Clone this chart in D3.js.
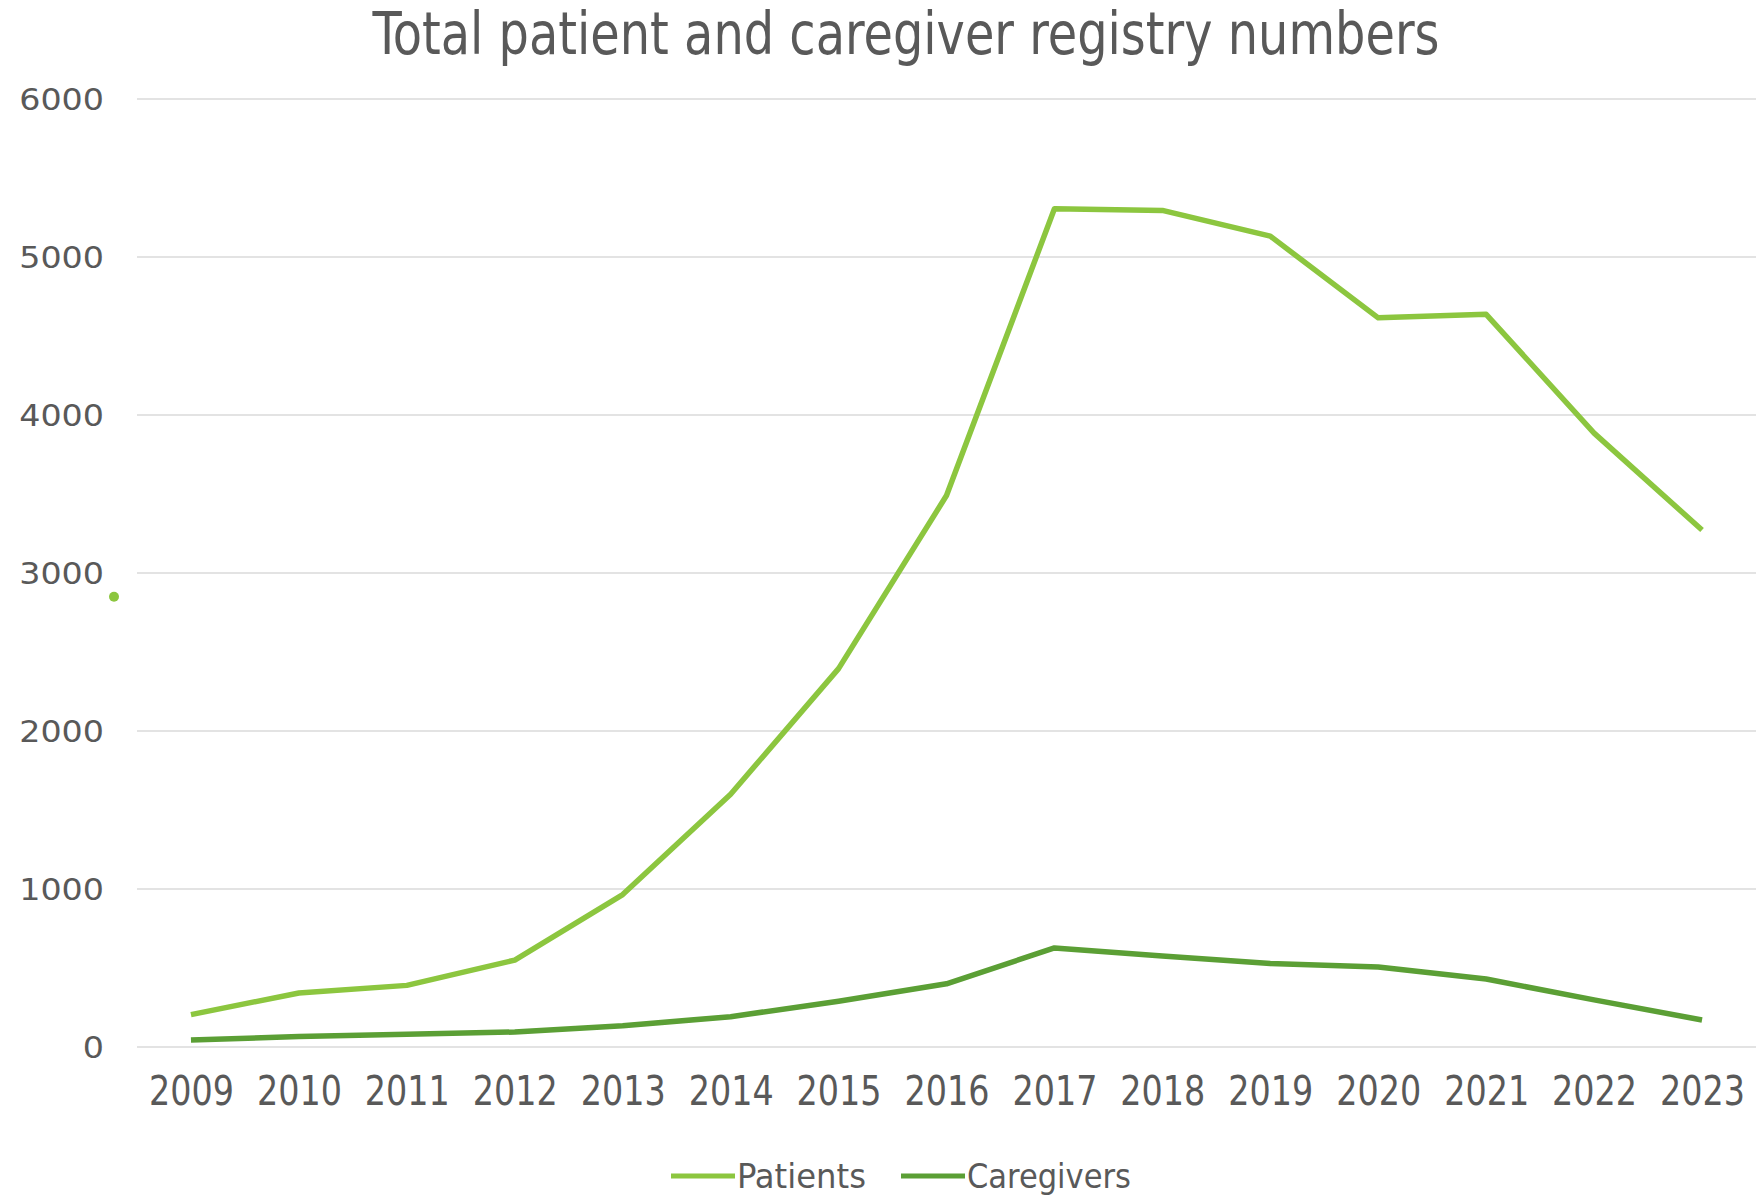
<!DOCTYPE html>
<html>
<head>
<meta charset="utf-8">
<script src="https://cdn.jsdelivr.net/npm/d3@7"></script>
<style>
  body { margin: 0; background: #fff; }
  svg { display: block; }
  .axis text { fill: #595959; }
</style>
</head>
<body>
<div id="chart"></div>
<script>
// chart data
const years = ['2009', '2010', '2011', '2012', '2013', '2014', '2015', '2016',
               '2017', '2018', '2019', '2020', '2021', '2022', '2023'];
const patients = [205, 342, 390, 550, 965, 1600, 2395, 3490, 5305, 5295, 5132, 4615, 4637, 3885, 3272];
const caregivers = [44, 66, 80, 95, 135, 192, 290, 400, 627, 576, 528, 507, 430, 298, 171];
const yTicks = [0, 1000, 2000, 3000, 4000, 5000, 6000];
const seriesNames = ['Patients', 'Caregivers'];
// stray dot seen next to the axis in the source image
const strayDotValue = 2850;

const colors = {Patients: '#8cc63f', Caregivers: '#5b9f35'};

const width = 1760, height = 1196;
const margin = {top: 99, right: 4, bottom: 149, left: 137};
const innerW = width - margin.left - margin.right;
const innerH = height - margin.top - margin.bottom;

const svg = d3.select('#chart').append('svg')
    .attr('width', width)
    .attr('height', height);

const chart = svg.append('g')
    .attr('transform', `translate(${margin.left},${margin.top})`);

const xScale = d3.scalePoint()
    .domain(years)
    .range([0, innerW])
    .padding(0.5);

const yScale = d3.scaleLinear()
    .domain([0, 6000])
    .range([innerH, 0]);

// gridlines
chart.append('g')
    .selectAll('line')
    .data(yTicks)
    .join('line')
    .attr('x1', 0)
    .attr('x2', innerW)
    .attr('y1', d => yScale(d))
    .attr('y2', d => yScale(d))
    .attr('stroke', '#e3e3e3')
    .attr('stroke-width', 2);

// y axis
const yAxisG = chart.append('g')
    .attr('class', 'axis y-axis')
    .call(d3.axisLeft(yScale)
        .tickValues(yTicks)
        .tickFormat(d3.format('d'))
        .tickSize(0)
        .tickPadding(33));
yAxisG.select('.domain').remove();
yAxisG.selectAll('text')
    .attr('font-family', '"DejaVu Sans", Verdana, sans-serif')
    .attr('font-size', 30)
    .attr('dy', '0.36em')
    .attr('textLength', d => String(d).length * 21.2)
    .attr('lengthAdjust', 'spacingAndGlyphs');

// x axis
const xAxisG = chart.append('g')
    .attr('class', 'axis x-axis')
    .attr('transform', `translate(0,${innerH})`)
    .call(d3.axisBottom(xScale).tickSize(0).tickPadding(29));
xAxisG.select('.domain').remove();
xAxisG.selectAll('text')
    .attr('font-family', '"Liberation Sans Narrow", "DejaVu Sans Condensed", "Liberation Sans", sans-serif')
    .attr('font-size', 41)
    .attr('dy', '0.71em')
    .attr('textLength', 85)
    .attr('lengthAdjust', 'spacingAndGlyphs');

// lines
const seriesData = [
    {name: 'Patients', values: patients},
    {name: 'Caregivers', values: caregivers}
];

const line = d3.line()
    .x((d, i) => xScale(years[i]))
    .y(d => yScale(d));

chart.selectAll('.series')
    .data(seriesData)
    .join('path')
    .attr('class', 'series')
    .attr('fill', 'none')
    .attr('stroke', d => colors[d.name])
    .attr('stroke-width', 5.5)
    .attr('stroke-linejoin', 'round')
    .attr('d', d => line(d.values));

chart.append('circle')
    .attr('cx', -23)
    .attr('cy', yScale(strayDotValue))
    .attr('r', 5)
    .attr('fill', colors.Patients);

// title
svg.append('text')
    .attr('x', 906)
    .attr('y', 54)
    .attr('text-anchor', 'middle')
    .attr('font-family', '"Liberation Sans Narrow", "DejaVu Sans Condensed", "Liberation Sans", sans-serif')
    .attr('font-size', 59)
    .attr('fill', '#595959')
    .attr('textLength', 1067)
    .attr('lengthAdjust', 'spacingAndGlyphs')
    .text('Total patient and caregiver registry numbers');

// legend
const legendItems = [
    {name: 'Patients', x: 671, textW: 129},
    {name: 'Caregivers', x: 901, textW: 164}
];
const legendG = svg.append('g')
    .attr('transform', 'translate(0,1176)');
const cells = legendG.selectAll('g')
    .data(legendItems)
    .join('g')
    .attr('transform', d => `translate(${d.x},0)`);
cells.append('line')
    .attr('x1', 0)
    .attr('x2', 64)
    .attr('stroke', d => colors[d.name])
    .attr('stroke-width', 5);
cells.append('text')
    .attr('x', 66)
    .attr('dy', '0.34em')
    .attr('font-family', '"Liberation Sans Narrow", "DejaVu Sans Condensed", "Liberation Sans", sans-serif')
    .attr('font-size', 34)
    .attr('fill', '#595959')
    .attr('textLength', d => d.textW)
    .attr('lengthAdjust', 'spacingAndGlyphs')
    .text(d => d.name);
</script>
</body>
</html>
